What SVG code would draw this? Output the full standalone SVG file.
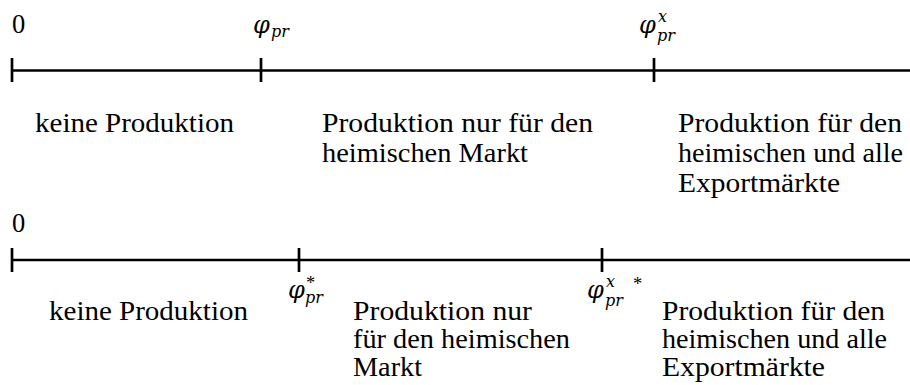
<svg xmlns="http://www.w3.org/2000/svg" width="910" height="385" viewBox="0 0 910 385">
<style>
text{fill:#000;font-family:'Liberation Serif','Times New Roman',serif}
.t{font-size:26.5px}
.m{font-family:'DejaVu Serif','Liberation Serif',serif;font-style:italic;font-size:24px}
.s{font-family:'DejaVu Serif','Liberation Serif',serif;font-style:italic;font-size:16px}
.st{font-family:'Liberation Serif',serif;font-style:normal;font-size:18.5px}
.ax{stroke:#000;stroke-width:2.7;fill:none}
</style>
<rect width="910" height="385" fill="#fff"/>
<g id="connectors">
  <line class="ax" x1="12" y1="70.5" x2="910" y2="70.5"/>
  <line class="ax" x1="12" y1="260" x2="910" y2="260"/>
</g>
<g id="top-axis">
  <g id="tick-top-0">
    <line class="ax" x1="12" y1="58" x2="12" y2="82"/>
    <text class="t" x="12" y="33">0</text>
  </g>
  <g id="tick-top-phi">
    <line class="ax" x1="261" y1="58" x2="261" y2="82"/>
    <text class="m"><tspan x="253" y="33">φ</tspan><tspan class="s" x="271" y="37">pr</tspan></text>
  </g>
  <g id="tick-top-phix">
    <line class="ax" x1="654" y1="58" x2="654" y2="82"/>
    <text class="m"><tspan x="639" y="33">φ</tspan><tspan class="s" x="658" y="21.5">x</tspan><tspan class="s" x="657" y="40.5">pr</tspan></text>
  </g>
  <g id="region-top-1">
    <text class="t" x="35" y="132" textLength="199" lengthAdjust="spacingAndGlyphs">keine Produktion</text>
  </g>
  <g id="region-top-2">
    <text class="t" x="322" y="132" textLength="271" lengthAdjust="spacingAndGlyphs">Produktion nur für den</text>
    <text class="t" x="322" y="162" textLength="206" lengthAdjust="spacingAndGlyphs">heimischen Markt</text>
  </g>
  <g id="region-top-3">
    <text class="t" x="678" y="132" textLength="224" lengthAdjust="spacingAndGlyphs">Produktion für den</text>
    <text class="t" x="678" y="162" textLength="225" lengthAdjust="spacingAndGlyphs">heimischen und alle</text>
    <text class="t" x="678" y="192" textLength="162" lengthAdjust="spacingAndGlyphs">Exportmärkte</text>
  </g>
</g>
<g id="bottom-axis">
  <g id="tick-bottom-0">
    <line class="ax" x1="12" y1="248" x2="12" y2="272"/>
    <text class="t" x="12" y="232">0</text>
  </g>
  <g id="tick-bottom-phistar">
    <line class="ax" x1="299" y1="248" x2="299" y2="272"/>
    <text class="m"><tspan x="288" y="298">φ</tspan><tspan class="st" x="306" y="289">*</tspan><tspan class="s" x="305" y="302.5">pr</tspan></text>
  </g>
  <g id="tick-bottom-phixstar">
    <line class="ax" x1="602" y1="248" x2="602" y2="272"/>
    <text class="m"><tspan x="587" y="298">φ</tspan><tspan class="s" x="606" y="287">x</tspan><tspan class="s" x="605" y="305.5">pr</tspan><tspan class="st" x="633" y="290">*</tspan></text>
  </g>
  <g id="region-bottom-1">
    <text class="t" x="49" y="320" textLength="199" lengthAdjust="spacingAndGlyphs">keine Produktion</text>
  </g>
  <g id="region-bottom-2">
    <text class="t" x="353" y="320" textLength="179" lengthAdjust="spacingAndGlyphs">Produktion nur</text>
    <text class="t" x="353" y="348" textLength="217" lengthAdjust="spacingAndGlyphs">für den heimischen</text>
    <text class="t" x="353" y="376" textLength="69" lengthAdjust="spacingAndGlyphs">Markt</text>
  </g>
  <g id="region-bottom-3">
    <text class="t" x="662" y="320" textLength="223" lengthAdjust="spacingAndGlyphs">Produktion für den</text>
    <text class="t" x="662" y="348" textLength="225" lengthAdjust="spacingAndGlyphs">heimischen und alle</text>
    <text class="t" x="662" y="376" textLength="163" lengthAdjust="spacingAndGlyphs">Exportmärkte</text>
  </g>
</g>
</svg>
